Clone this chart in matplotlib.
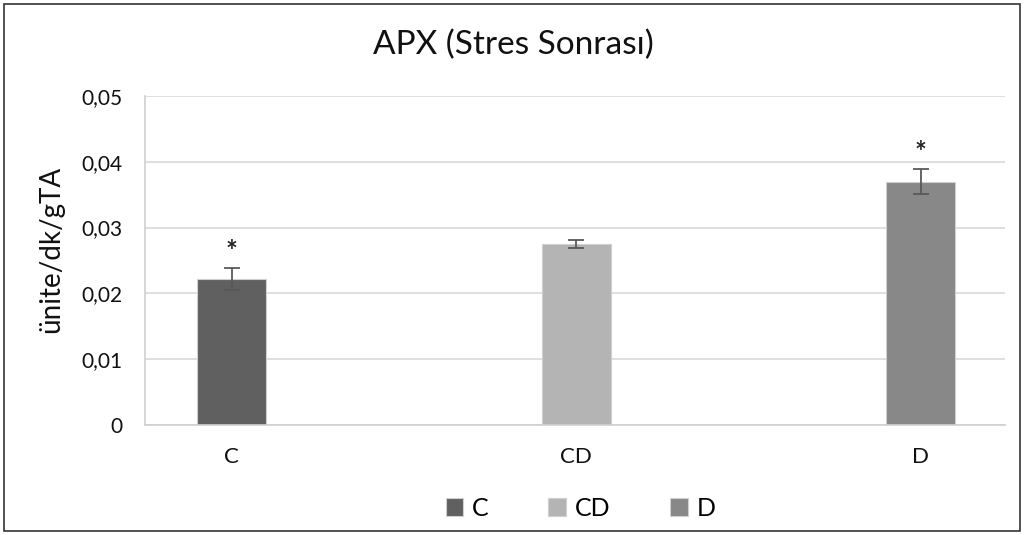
import matplotlib.pyplot as plt
from matplotlib.patches import Rectangle
import numpy as np

plt.rcParams['font.family'] = ['Lato', 'DejaVu Sans']

groups = ['C', 'CD', 'D']
values = [0.0222, 0.0275, 0.0370]
errors = [0.0017, 0.0006, 0.0019]
colors = ['#606060', '#b4b4b4', '#888888']
stars = ['*', '', '*']

fig = plt.figure(figsize=(10.24, 5.35), dpi=100)
ax = fig.add_axes([0.1416, 0.2056, 0.8394, 0.615])

x = np.arange(len(groups))
for i in range(len(groups)):
    ax.bar(x[i], values[i], width=0.2, color=colors[i], edgecolor='#d0d0d0',
           linewidth=0.8, label=groups[i], zorder=2)
    ax.errorbar(x[i], values[i], yerr=errors[i], fmt='none', ecolor='#595959',
                elinewidth=1.3, capsize=6, capthick=1.3, zorder=3)
    if stars[i]:
        ax.text(x[i], values[i] + errors[i] + 0.0004, stars[i], ha='center',
                va='bottom', fontsize=20, fontweight='bold', color='#222222')

ax.set_xlim(-0.252, 2.243)
ax.set_ylim(0, 0.05)
ax.set_yticks([0, 0.01, 0.02, 0.03, 0.04, 0.05])
ax.set_yticklabels(['0', '0,01', '0,02', '0,03', '0,04', '0,05'])
ax.set_xticks(x)
ax.set_xticklabels(groups)
ax.tick_params(axis='both', length=0, labelsize=15, colors='#111111')
ax.tick_params(axis='x', pad=16, labelsize=16)
ax.tick_params(axis='y', pad=16)
ax.yaxis.grid(True, color='#d9d9d9', linewidth=1.2, zorder=0)
ax.set_axisbelow(True)
for s in ['top', 'right']:
    ax.spines[s].set_visible(False)
for s in ['bottom', 'left']:
    ax.spines[s].set_color('#d0d0d0')
    ax.spines[s].set_linewidth(1.2)

ax.set_ylabel('ünite/dk/gTA', fontsize=20, color='#111111')
ax.yaxis.set_label_coords(-0.094, 0.535)
fig.text(0.501, 0.916, 'APX (Stres Sonrası)', ha='center', va='center', fontsize=24,
         color='#111111')

fig.legend(loc='center', bbox_to_anchor=(0.567, 0.05), ncol=3, frameon=False,
           fontsize=18, handlelength=0.7, handleheight=0.7, columnspacing=2.4,
           handletextpad=0.35)

fig.patches.append(Rectangle((0.004, 0.008), 0.992, 0.984, transform=fig.transFigure,
                             fill=False, edgecolor='#333333', linewidth=1.2))

fig.savefig('out.png', dpi=100)
